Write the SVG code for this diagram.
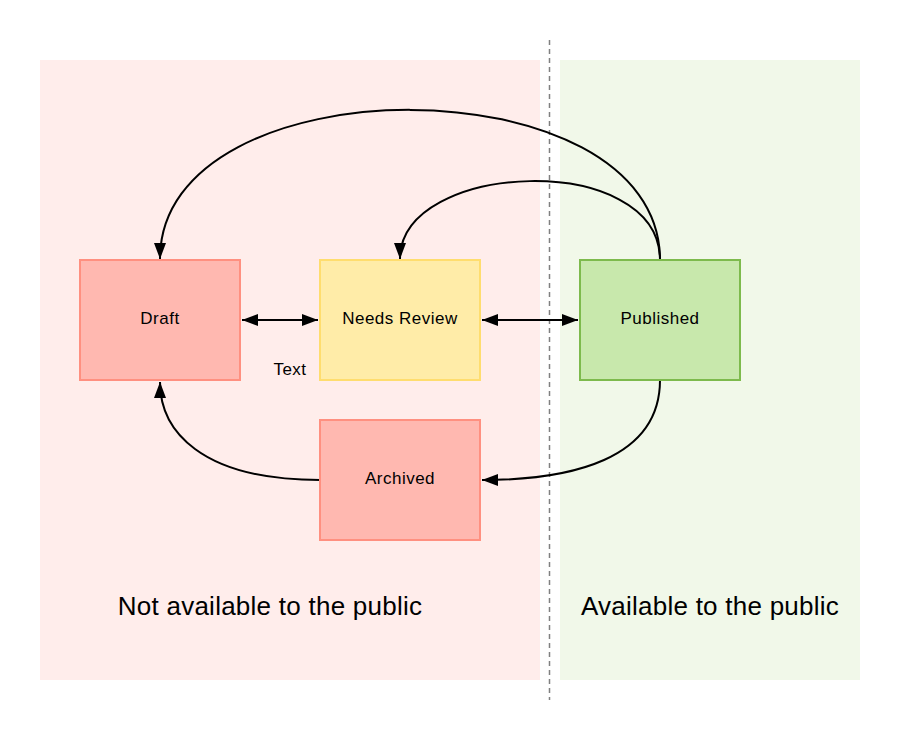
<svg xmlns="http://www.w3.org/2000/svg" width="900" height="740" viewBox="0 0 900 740">
<defs>
<marker id="ah" viewBox="0 0 16 12" refX="16" refY="6" markerWidth="16" markerHeight="12" markerUnits="userSpaceOnUse" orient="auto-start-reverse">
<path d="M0,0 L16,6 L0,12 Z" fill="#000"/>
</marker>
</defs>
<style>
.lbl{font-family:"Liberation Sans",Arial,sans-serif;font-size:17px;letter-spacing:0.5px;fill:#000;text-anchor:middle}
.big{font-family:"Liberation Sans",Arial,sans-serif;font-size:26px;letter-spacing:0.25px;fill:#000;text-anchor:middle}
.red{fill:#FFB8B0;stroke:#FF9080;stroke-width:2}
.yel{fill:#FFECA8;stroke:#FFDD6E;stroke-width:2}
.grn{fill:#C8E8AC;stroke:#7DBA4C;stroke-width:2}
.edge{fill:none;stroke:#000;stroke-width:2}
</style>
<rect width="900" height="740" fill="#fff"/>
<g id="zone-private">
<rect x="40" y="60" width="500" height="620" fill="#FFEDEB"/>
<text class="big" x="270" y="615">Not available to the public</text>
</g>
<g id="zone-public">
<rect x="560" y="60" width="300" height="620" fill="#F1F8E9"/>
<text class="big" x="710" y="615">Available to the public</text>
</g>
<line x1="549.5" y1="40" x2="549.5" y2="700" stroke="#808080" stroke-width="1.5" stroke-dasharray="5 4"/>
<g id="connectors">
<path class="edge" d="M242,320 L318,320" marker-start="url(#ah)" marker-end="url(#ah)"/>
<path class="edge" d="M482,320 L578,320" marker-start="url(#ah)" marker-end="url(#ah)"/>
<path class="edge" d="M660,260 C660,60 160,60 160,259" marker-end="url(#ah)"/>
<path class="edge" d="M660,260 C660,150 400,160 400,259" marker-end="url(#ah)"/>
<path class="edge" d="M660,380 C660,460 570,480 482,480" marker-end="url(#ah)"/>
<path class="edge" d="M320,480 C200,480 160,430 160,382" marker-end="url(#ah)"/>
</g>
<g id="draft">
<rect class="red" x="80" y="260" width="160" height="120"/>
<text class="lbl" x="160" y="324">Draft</text>
</g>
<g id="needs-review">
<rect class="yel" x="320" y="260" width="160" height="120"/>
<text class="lbl" x="400" y="324">Needs Review</text>
</g>
<g id="published">
<rect class="grn" x="580" y="260" width="160" height="120"/>
<text class="lbl" x="660" y="324">Published</text>
</g>
<g id="archived">
<rect class="red" x="320" y="420" width="160" height="120"/>
<text class="lbl" x="400" y="484">Archived</text>
</g>
<g id="text-label">
<text class="lbl" x="290" y="375">Text</text>
</g>
</svg>
